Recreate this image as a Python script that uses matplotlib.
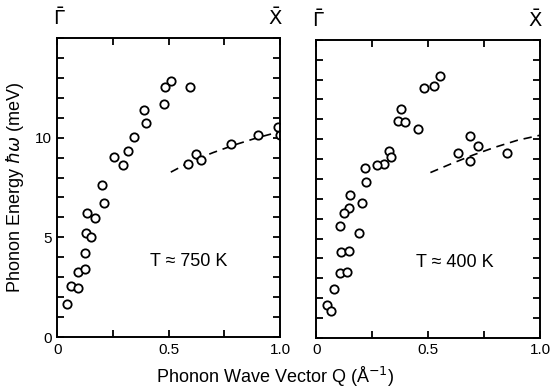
import numpy as np
import matplotlib
matplotlib.use('Agg')
import matplotlib.pyplot as plt

plt.rcParams['font.family'] = ['Liberation Sans', 'DejaVu Sans']

# T = 750 K panel, upper branch (open circles)
q750 = [0.512, 0.485, 0.597, 0.479, 0.388, 0.399, 0.344, 0.318, 0.256, 0.295,
        0.201, 0.208, 0.135, 0.171, 0.129, 0.152, 0.124, 0.095, 0.125, 0.063,
        0.094, 0.042]
e750 = [12.83, 12.54, 12.53, 11.70, 11.40, 10.74, 10.05, 9.33, 9.01, 8.62,
        7.64, 6.72, 6.21, 5.99, 5.24, 5.04, 4.21, 3.28, 3.40, 2.58,
        2.46, 1.68]
# T = 750 K, lower branch
q750b = [0.585, 0.622, 0.644, 0.780, 0.902, 0.990, 0.999]
e750b = [8.69, 9.16, 8.87, 9.68, 10.12, 10.54, 10.12]
# dashed curve 750 K
q750d = [0.51, 0.6, 0.7, 0.8, 0.9, 1.0]
e750d = [8.27, 8.8, 9.25, 9.65, 10.0, 10.3]

# T = 400 K panel
q400 = [0.553, 0.528, 0.481, 0.379, 0.365, 0.398, 0.455, 0.323, 0.335, 0.301,
        0.272, 0.218, 0.221, 0.150, 0.205, 0.146, 0.126, 0.105, 0.193, 0.110,
        0.146, 0.107, 0.139, 0.079, 0.050, 0.066]
e400 = [13.17, 12.69, 12.56, 11.53, 10.91, 10.86, 10.52, 9.39, 9.11, 8.77,
        8.70, 8.54, 7.83, 7.21, 6.77, 6.52, 6.30, 5.61, 5.27, 4.33,
        4.39, 3.28, 3.32, 2.47, 1.63, 1.33]
q400b = [0.689, 0.724, 0.632, 0.687, 0.852]
e400b = [10.14, 9.65, 9.29, 8.92, 9.31]
q400d = [0.51, 0.6, 0.7, 0.8, 0.9, 1.0]
e400d = [8.32, 8.75, 9.2, 9.6, 9.95, 10.2]

fig = plt.figure(figsize=(5.5, 3.91), dpi=100)
ax1 = fig.add_axes([0.104, 0.138, 0.405, 0.765])
ax2 = fig.add_axes([0.575, 0.136, 0.407, 0.762])

panels = [(ax1, q750, e750, q750b, e750b, q750d, e750d, 'T ≈ 750 K', 0.59),
          (ax2, q400, e400, q400b, e400b, q400d, e400d, 'T ≈ 400 K', 0.62)]

for ax, q, e, qb, eb, qd, ed, label, tx in panels:
    ax.plot(qd, ed, color='black', linestyle=(0, (5, 3.5)), linewidth=1.2)
    ax.plot(q, e, 'o', markersize=6, markerfacecolor='white',
            markeredgecolor='black', markeredgewidth=1.3)
    ax.plot(qb, eb, 'o', markersize=6, markerfacecolor='white',
            markeredgecolor='black', markeredgewidth=1.3)
    ax.set_xlim(0, 1.0)
    ax.set_ylim(0, 15)
    ax.set_xticks(np.arange(0, 1.01, 0.25))
    ax.set_xticklabels(['0', '', '0.5', '', '1.0'])
    ax.set_yticks(np.arange(0, 15.1, 1))
    ax.tick_params(direction='in', length=5, width=1.3, top=True, right=True,
                   labelsize=11, pad=4)
    for s in ax.spines.values():
        s.set_linewidth(1.4)
    ax.text(tx, 3.8, label, fontsize=13, ha='center', va='center')
    ax.text(0.01, 1.03, r'$\bar{\Gamma}$', transform=ax.transAxes, fontsize=14,
            ha='center', va='bottom')
    ax.text(0.98, 1.03, r'$\bar{\mathrm{X}}$', transform=ax.transAxes, fontsize=14,
            ha='center', va='bottom')

ax1.set_yticklabels(['0', '', '', '', '', '5', '', '', '', '', '10', '', '', '', '', ''])
ax2.set_yticklabels([])

ax1.set_ylabel(r'Phonon Energy $\hbar\omega$ (meV)', fontsize=13, labelpad=6)
fig.text(0.5, 0.035, r'Phonon Wave Vector Q (Å$^{-1}$)', fontsize=13,
         ha='center', va='center')

fig.savefig('out.png', dpi=100)
